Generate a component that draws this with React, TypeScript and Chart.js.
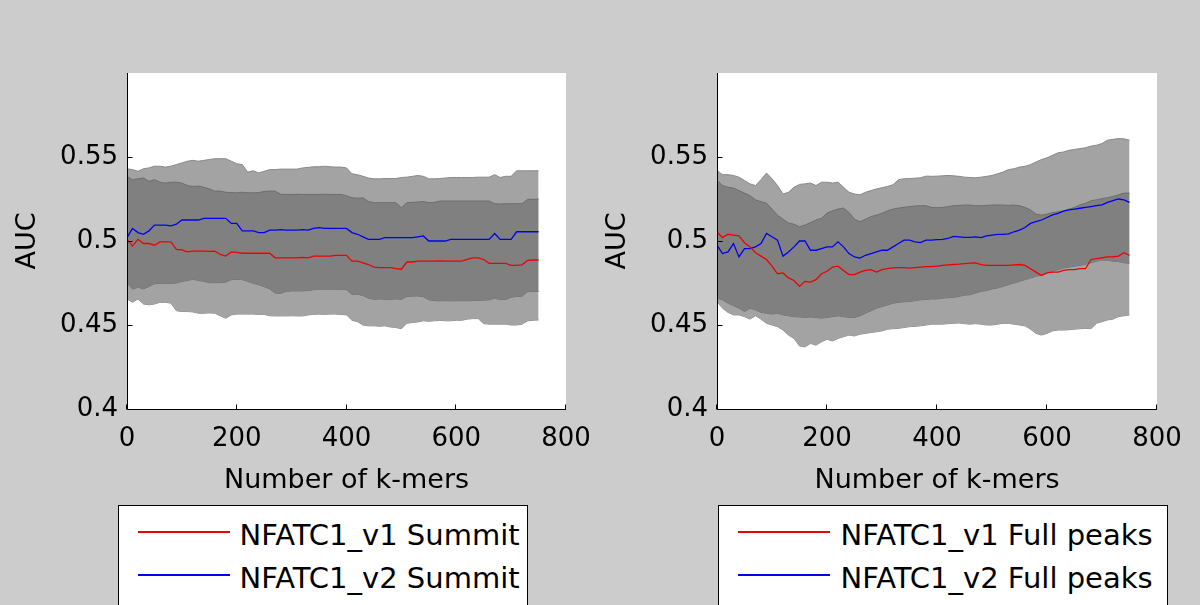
import React, { useEffect, useRef } from "react";
import { Chart, registerables } from "chart.js";

Chart.register(...registerables);

// ---- data ----
const K_MERS = [
  0, 10, 20, 30, 40, 50, 60, 70, 80, 90,
  100, 110, 120, 130, 140, 150, 160, 170, 180, 190,
  200, 210, 220, 230, 240, 250, 260, 270, 280, 290,
  300, 310, 320, 330, 340, 350, 360, 370, 380, 390,
  400, 410, 420, 430, 440, 450, 460, 470, 480, 490,
  500, 510, 520, 530, 540, 550, 560, 570, 580, 590,
  600, 610, 620, 630, 640, 650, 660, 670, 680, 690,
  700, 710, 720, 730, 740, 750,
];

const Y_TICKS = [0.4, 0.45, 0.5, 0.55];
const X_TICKS = [0, 200, 400, 600, 800];

// Left panel: Summit
const SUMMIT_V1 = [
  0.501, 0.497, 0.501, 0.4985, 0.4985, 0.4975, 0.4995, 0.4995, 0.4995, 0.495,
  0.4947, 0.4935, 0.494, 0.494, 0.494, 0.4938, 0.494, 0.492, 0.491, 0.4935,
  0.4932, 0.4927, 0.4927, 0.4927, 0.4927, 0.4927, 0.4927, 0.49, 0.49, 0.49,
  0.49, 0.49, 0.4902, 0.49, 0.491, 0.491, 0.491, 0.491, 0.4915, 0.4915,
  0.4915, 0.488, 0.488, 0.487, 0.486, 0.4845, 0.4842, 0.4842, 0.4842, 0.4835,
  0.4832, 0.4875, 0.4875, 0.488, 0.488, 0.488, 0.488, 0.4882, 0.488, 0.488,
  0.488, 0.488, 0.489, 0.49, 0.49, 0.489, 0.4867, 0.4867, 0.4867, 0.4867,
  0.4855, 0.4855, 0.4858, 0.4885, 0.4887, 0.4887,
];
const SUMMIT_V2 = [
  0.502, 0.5075, 0.505, 0.504, 0.506, 0.5095, 0.5095, 0.5095, 0.509, 0.51,
  0.5125, 0.5125, 0.5125, 0.5125, 0.5135, 0.5135, 0.5135, 0.5135, 0.5135, 0.5105,
  0.5105, 0.506, 0.506, 0.506, 0.505, 0.505, 0.5065, 0.5065, 0.5068, 0.5065,
  0.5065, 0.5065, 0.5068, 0.5065, 0.5075, 0.508, 0.5075, 0.5075, 0.5075, 0.5075,
  0.5075, 0.505, 0.504, 0.5025, 0.501, 0.501, 0.501, 0.502, 0.502, 0.502,
  0.502, 0.502, 0.502, 0.5025, 0.503, 0.5, 0.5, 0.5, 0.5, 0.501,
  0.501, 0.501, 0.501, 0.501, 0.501, 0.501, 0.501, 0.5045, 0.501, 0.501,
  0.501, 0.5055, 0.5055, 0.5055, 0.5055, 0.5055,
];
const SUMMIT_INNER_HI = [
  0.5385, 0.5365, 0.537, 0.5375, 0.5355, 0.5365, 0.535, 0.5345, 0.535, 0.535,
  0.5345, 0.533, 0.5325, 0.5327, 0.532, 0.531, 0.5297, 0.5297, 0.529, 0.5288,
  0.5287, 0.529, 0.5287, 0.5287, 0.5288, 0.5295, 0.5297, 0.5297, 0.5278, 0.5277,
  0.5277, 0.5278, 0.5277, 0.5277, 0.5277, 0.5277, 0.5278, 0.5277, 0.5277, 0.5277,
  0.527, 0.5257, 0.5255, 0.5257, 0.5235, 0.5228, 0.5228, 0.5228, 0.5228, 0.5228,
  0.5198, 0.5228, 0.523, 0.5232, 0.5235, 0.5228, 0.523, 0.5238, 0.5238, 0.5238,
  0.5238, 0.5238, 0.5238, 0.5238, 0.5238, 0.5238, 0.5238, 0.5222, 0.522, 0.5222,
  0.5222, 0.5222, 0.5222, 0.5248, 0.5248, 0.525,
];
const SUMMIT_INNER_LO = [
  0.4752, 0.4713, 0.4725, 0.4715, 0.473, 0.4745, 0.4748, 0.4748, 0.4748, 0.475,
  0.476, 0.4765, 0.4772, 0.4765, 0.476, 0.4752, 0.4752, 0.4752, 0.4755, 0.477,
  0.4772, 0.477, 0.476, 0.4748, 0.474, 0.4728, 0.4715, 0.469, 0.4688, 0.47,
  0.4703, 0.4703, 0.4703, 0.4705, 0.471, 0.4713, 0.4713, 0.4713, 0.4713, 0.4713,
  0.471, 0.4683, 0.4683, 0.4675, 0.466, 0.4653, 0.4655, 0.4653, 0.4653, 0.4655,
  0.4653, 0.467, 0.4672, 0.4673, 0.4668, 0.465, 0.4645, 0.4644, 0.4645, 0.4644,
  0.4644, 0.4645, 0.4644, 0.4645, 0.4646, 0.4648, 0.465, 0.466, 0.4652, 0.4652,
  0.4665, 0.467, 0.4672, 0.4698, 0.47, 0.47,
];
const SUMMIT_OUTER_HI = [
  0.543, 0.5425, 0.5415, 0.543, 0.5435, 0.5445, 0.5445, 0.544, 0.5445, 0.5455,
  0.5465, 0.5475, 0.548, 0.5475, 0.548, 0.5485, 0.549, 0.549, 0.549, 0.5475,
  0.546, 0.5455, 0.541, 0.5418, 0.5405, 0.5415, 0.5425, 0.5425, 0.5428, 0.5428,
  0.5428, 0.5428, 0.5435, 0.5438, 0.5442, 0.5442, 0.5445, 0.5442, 0.544, 0.544,
  0.5435, 0.54, 0.5395, 0.5385, 0.5375, 0.537, 0.537, 0.5372, 0.5372, 0.5372,
  0.5378, 0.538, 0.5385, 0.539, 0.5385, 0.537, 0.537, 0.5372, 0.5375, 0.5378,
  0.5378, 0.5378, 0.5378, 0.5378, 0.538, 0.538, 0.538, 0.5395, 0.5378, 0.5385,
  0.5385, 0.5418, 0.5418, 0.5418, 0.5418, 0.5418,
];
const SUMMIT_OUTER_LO = [
  0.4655, 0.4635, 0.4655, 0.4625, 0.462, 0.4625, 0.4635, 0.4635, 0.463, 0.4585,
  0.458, 0.458, 0.4578, 0.457, 0.457, 0.4572, 0.457, 0.4555, 0.454, 0.456,
  0.4565, 0.4565, 0.4565, 0.4565, 0.4563, 0.4563, 0.4555, 0.4554, 0.4554, 0.4554,
  0.4555, 0.4554, 0.4554, 0.456, 0.4563, 0.4565, 0.4563, 0.4565, 0.4565, 0.4563,
  0.456, 0.4528, 0.452, 0.45, 0.4495, 0.4495, 0.4492, 0.4495, 0.4488, 0.4485,
  0.4478, 0.451, 0.4515, 0.4518, 0.4525, 0.4522, 0.4525, 0.4528, 0.4525, 0.4525,
  0.4528, 0.4528, 0.4535, 0.4538, 0.4538, 0.4508, 0.4505, 0.4505, 0.4505, 0.4505,
  0.45, 0.45, 0.4505, 0.4525, 0.4528, 0.453,
];

// Right panel: Full peaks
const FULL_V1 = [
  0.5055, 0.502, 0.504, 0.5035, 0.503, 0.499, 0.4965, 0.493, 0.491, 0.489,
  0.485, 0.4805, 0.481, 0.478, 0.4765, 0.473, 0.476, 0.4755, 0.477, 0.4805,
  0.482, 0.4845, 0.485, 0.4825, 0.48, 0.48, 0.4815, 0.4825, 0.483, 0.4815,
  0.483, 0.4835, 0.484, 0.4842, 0.4842, 0.4838, 0.4842, 0.4845, 0.4848, 0.4848,
  0.485, 0.4855, 0.4858, 0.486, 0.4862, 0.4865, 0.4868, 0.487, 0.486, 0.4855,
  0.4855, 0.4855, 0.4855, 0.4855, 0.4858, 0.486, 0.4855, 0.4835, 0.4815, 0.4795,
  0.481, 0.4815, 0.4815, 0.4825, 0.483, 0.483, 0.4835, 0.4835, 0.489, 0.4895,
  0.49, 0.4905, 0.4905, 0.491, 0.493, 0.4915,
];
const FULL_V2 = [
  0.4975, 0.4925, 0.4935, 0.4985, 0.4905, 0.4955, 0.4955, 0.4965, 0.4985, 0.5045,
  0.5025, 0.5005, 0.491, 0.4935, 0.4965, 0.5, 0.5, 0.4945, 0.4945, 0.4955,
  0.4965, 0.4965, 0.4995, 0.4965, 0.4925, 0.4905, 0.4898, 0.4915, 0.4925, 0.4935,
  0.4945, 0.4945, 0.4965, 0.4985, 0.5005, 0.5005, 0.4995, 0.499, 0.5005, 0.5005,
  0.5008, 0.501, 0.5015, 0.5028, 0.5025, 0.5022, 0.5022, 0.5025, 0.502, 0.503,
  0.5035, 0.504, 0.504, 0.5042, 0.5055, 0.5065, 0.508, 0.5105, 0.5115, 0.5125,
  0.514, 0.5155, 0.5165, 0.5178, 0.5185, 0.519, 0.5195, 0.52, 0.5205, 0.521,
  0.5215, 0.523, 0.524, 0.525, 0.5245, 0.523,
];
const FULL_INNER_HI = [
  0.536, 0.533, 0.532, 0.5315, 0.53, 0.5285, 0.527, 0.5245, 0.5234, 0.5225,
  0.519, 0.5154, 0.513, 0.5107, 0.51, 0.5085, 0.5095, 0.511, 0.5125, 0.5135,
  0.5166, 0.518, 0.519, 0.5196, 0.517, 0.513, 0.5115, 0.513, 0.5145, 0.5154,
  0.5165, 0.518, 0.519, 0.5196, 0.52, 0.5205, 0.5208, 0.521, 0.521, 0.52,
  0.5198, 0.52, 0.5205, 0.521, 0.5212, 0.5214, 0.5214, 0.521, 0.521, 0.5212,
  0.5214, 0.5215, 0.5214, 0.5212, 0.5214, 0.521, 0.52, 0.5185, 0.516, 0.5154,
  0.516, 0.517, 0.5174, 0.518, 0.519, 0.52, 0.5215, 0.5225, 0.524, 0.5245,
  0.5252, 0.5258, 0.5265, 0.5275, 0.5285, 0.5285,
];
const FULL_INNER_LO = [
  0.466, 0.465, 0.463, 0.4615, 0.46, 0.458, 0.46, 0.459, 0.4575, 0.457,
  0.4565, 0.457, 0.456, 0.4555, 0.455, 0.4548, 0.4545, 0.4548, 0.4545, 0.4541,
  0.4545, 0.455, 0.4555, 0.455, 0.4545, 0.4545, 0.4555, 0.457, 0.4585, 0.46,
  0.461, 0.462, 0.463, 0.4635, 0.4638, 0.464, 0.4645, 0.465, 0.4652, 0.4655,
  0.4655, 0.466, 0.4662, 0.4665, 0.467, 0.4678, 0.468, 0.469, 0.47, 0.4705,
  0.4715, 0.472, 0.473, 0.474, 0.475, 0.476, 0.477, 0.478, 0.479, 0.4797,
  0.481, 0.482, 0.483, 0.484, 0.4845, 0.485, 0.4855, 0.4862, 0.487, 0.488,
  0.4887, 0.4885, 0.488, 0.4878, 0.487, 0.4868,
];
const FULL_OUTER_HI = [
  0.542, 0.5395, 0.5395, 0.539, 0.538, 0.536, 0.534, 0.533, 0.5365, 0.5405,
  0.537, 0.533, 0.528, 0.529, 0.532, 0.5337, 0.534, 0.5345, 0.533, 0.535,
  0.535, 0.5345, 0.535, 0.532, 0.529, 0.528, 0.5275, 0.529, 0.53, 0.531,
  0.5317, 0.5325, 0.5335, 0.5365, 0.537, 0.5372, 0.5374, 0.5376, 0.5386, 0.5385,
  0.5386, 0.5388, 0.539, 0.5388, 0.5385, 0.538, 0.5378, 0.5376, 0.538, 0.5385,
  0.539, 0.54, 0.541, 0.5425, 0.543, 0.544, 0.5445, 0.5455, 0.547, 0.5485,
  0.5495, 0.551, 0.5525, 0.553, 0.554, 0.5545, 0.555, 0.5555, 0.5565, 0.557,
  0.558, 0.56, 0.5605, 0.561, 0.5608, 0.56,
];
const FULL_OUTER_LO = [
  0.464, 0.46, 0.4575, 0.456, 0.456, 0.455, 0.4535, 0.4555, 0.4535, 0.451,
  0.45, 0.449, 0.447, 0.444, 0.442, 0.4375, 0.437, 0.439, 0.438, 0.44,
  0.4415, 0.4405, 0.442, 0.443, 0.444, 0.4435, 0.4445, 0.445, 0.4455, 0.446,
  0.4465, 0.4475, 0.4478, 0.448, 0.4485, 0.449, 0.4492, 0.4495, 0.45, 0.4505,
  0.4505, 0.4505, 0.4508, 0.451, 0.4512, 0.4508, 0.4505, 0.4508, 0.4505, 0.45,
  0.45, 0.4505, 0.451, 0.451, 0.4505, 0.45, 0.4495, 0.4475, 0.445, 0.444,
  0.445, 0.4465, 0.447, 0.447, 0.4472, 0.4475, 0.4478, 0.448, 0.4478, 0.451,
  0.452, 0.453, 0.4535, 0.455, 0.4555, 0.456,
];

const FONT = "'DejaVu Sans', 'Liberation Sans', sans-serif";
const RED = "rgb(240,0,0)";
const BLUE = "rgb(0,0,240)";

const pts = (arr: number[]) => K_MERS.map((k, i) => ({ x: k, y: arr[i] }));

const matlabAxes = {
  id: "matlabAxes",
  beforeDraw(chart: any) {
    const { ctx, chartArea: a } = chart;
    ctx.save();
    ctx.fillStyle = "#ffffff";
    ctx.fillRect(a.left, a.top, a.right - a.left, a.bottom - a.top);
    ctx.restore();
  },
  afterDraw(chart: any) {
    const { ctx, chartArea: a, scales } = chart;
    const x = scales.x;
    const y = scales.y;
    const L = Math.round(a.left) + 0.5;
    const B = Math.round(a.bottom) + 0.5;
    ctx.save();
    ctx.strokeStyle = "#000";
    ctx.lineWidth = 1;
    ctx.beginPath();
    ctx.moveTo(L, Math.round(a.top));
    ctx.lineTo(L, B);
    ctx.lineTo(Math.round(a.right), B);
    for (const v of Y_TICKS) {
      const py = Math.round(y.getPixelForValue(v)) + 0.5;
      ctx.moveTo(L, py);
      ctx.lineTo(L + 5, py);
    }
    for (const v of X_TICKS) {
      const px = Math.round(x.getPixelForValue(v)) - 0.5;
      ctx.moveTo(px, B);
      ctx.lineTo(px, B - 5);
    }
    ctx.stroke();
    ctx.restore();
  },
};

function makeChart(
  canvas: HTMLCanvasElement,
  v1: number[],
  v2: number[],
  innerHi: number[],
  innerLo: number[],
  outerHi: number[],
  outerLo: number[],
  padRight: number
) {
  const lineDs = (data: number[], color: string) => ({
    data: pts(data),
    borderColor: color,
    borderWidth: 1.3,
    pointRadius: 0,
    fill: false,
  });
  const bandDs = (data: number[], edge: string, fillColor: string | null) => ({
    data: pts(data),
    borderColor: edge,
    borderWidth: 1,
    pointRadius: 0,
    backgroundColor: fillColor || "transparent",
    fill: fillColor ? "+1" : false,
  });
  return new Chart(canvas, {
    type: "line",
    data: {
      datasets: [
        lineDs(v1, RED),
        lineDs(v2, BLUE),
        bandDs(innerHi, "#6e6e6e", "#808080"),
        bandDs(innerLo, "#6e6e6e", null),
        bandDs(outerHi, "#8a8a8a", "#a3a3a3"),
        bandDs(outerLo, "#8a8a8a", null),
      ] as any,
    },
    options: {
      responsive: false,
      animation: false,
      events: [],
      layout: { padding: { left: 0, top: 73, right: padRight, bottom: 106 } },
      elements: { line: { tension: 0 } },
      plugins: {
        legend: { display: false },
        tooltip: { enabled: false },
      },
      scales: {
        x: {
          type: "linear",
          min: 0,
          max: 800,
          afterFit: (s: any) => {
            s.height = 90;
          },
          grid: { display: false, drawTicks: false },
          border: { display: false },
          ticks: {
            stepSize: 200,
            autoSkip: false,
            maxRotation: 0,
            padding: 15,
            color: "#000",
            font: { family: FONT, size: 26 },
          },
          title: {
            display: true,
            text: "Number of k-mers",
            color: "#000",
            font: { family: FONT, size: 27 },
            padding: { top: 0, bottom: 2 },
          },
        },
        y: {
          type: "linear",
          min: 0.4,
          max: 0.6,
          afterFit: (s: any) => {
            s.width = 127;
          },
          grid: { display: false, drawTicks: false },
          border: { display: false },
          ticks: {
            stepSize: 0.05,
            autoSkip: false,
            padding: 9,
            color: "#000",
            font: { family: FONT, size: 26 },
            callback: (v: any) => {
              const n = Number(v);
              if (n > 0.58) return "";
              return String(Number(n.toFixed(2)));
            },
          },
          title: {
            display: true,
            text: "AUC",
            color: "#000",
            font: { family: FONT, size: 27 },
            padding: { top: 12, bottom: 0 },
          },
        },
      },
    } as any,
    plugins: [matlabAxes],
  });
}

function Legend(props: { left: number; width: number; labels: string[]; textLeft: number }) {
  const colors = [RED, BLUE];
  return (
    <div
      style={{
        position: "absolute",
        left: props.left,
        top: 505,
        width: props.width,
        height: 120,
        background: "#fff",
        border: "1px solid #000",
        boxSizing: "border-box",
      }}
    >
      {props.labels.map((t, i) => (
        <React.Fragment key={t}>
          <div
            style={{
              position: "absolute",
              left: 19,
              top: 25 + i * 43,
              width: 92,
              height: 2,
              background: colors[i],
            }}
          />
          <div
            style={{
              position: "absolute",
              left: props.textLeft,
              top: 15 + i * 43,
              fontFamily: FONT,
              fontSize: 29,
              lineHeight: "29px",
              whiteSpace: "nowrap",
              color: "#000",
            }}
          >
            {t}
          </div>
        </React.Fragment>
      ))}
    </div>
  );
}

export default function App() {
  const leftRef = useRef<HTMLCanvasElement>(null);
  const rightRef = useRef<HTMLCanvasElement>(null);

  useEffect(() => {
    const c1 = makeChart(
      leftRef.current!,
      SUMMIT_V1,
      SUMMIT_V2,
      SUMMIT_INNER_HI,
      SUMMIT_INNER_LO,
      SUMMIT_OUTER_HI,
      SUMMIT_OUTER_LO,
      54
    );
    const c2 = makeChart(
      rightRef.current!,
      FULL_V1,
      FULL_V2,
      FULL_INNER_HI,
      FULL_INNER_LO,
      FULL_OUTER_HI,
      FULL_OUTER_LO,
      53
    );
    return () => {
      c1.destroy();
      c2.destroy();
    };
  }, []);

  return (
    <div
      style={{
        position: "absolute",
        left: 0,
        top: 0,
        width: 1200,
        height: 605,
        background: "#cccccc",
        overflow: "hidden",
      }}
    >
      <canvas
        ref={leftRef}
        width={620}
        height={605}
        style={{ position: "absolute", left: 0, top: 0, width: 620, height: 605 }}
      />
      <canvas
        ref={rightRef}
        width={620}
        height={605}
        style={{ position: "absolute", left: 590, top: 0, width: 620, height: 605 }}
      />
      <Legend
        left={118}
        width={410}
        textLeft={120.5}
        labels={["NFATC1_v1 Summit", "NFATC1_v2 Summit"]}
      />
      <Legend
        left={718}
        width={450}
        textLeft={121.5}
        labels={["NFATC1_v1 Full peaks", "NFATC1_v2 Full peaks"]}
      />
    </div>
  );
}
